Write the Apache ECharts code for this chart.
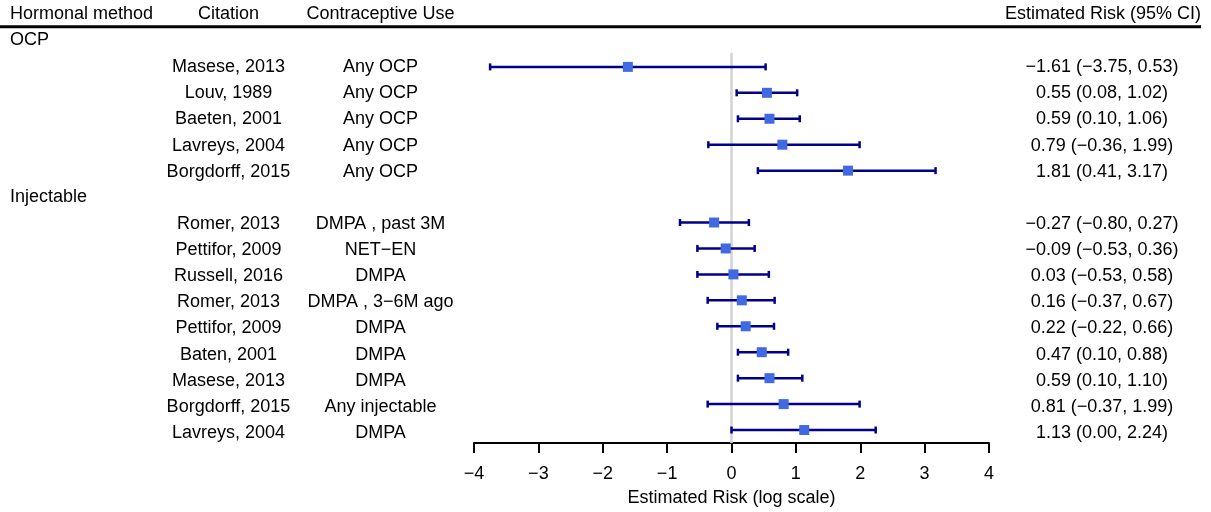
<!DOCTYPE html>
<html>
<head>
<meta charset="utf-8">
<script src="https://cdn.jsdelivr.net/npm/echarts@6/dist/echarts.min.js"></script>
<style>
  html, body { margin: 0; padding: 0; background: #fff; }
  #chart { width: 1211px; height: 512px; }
</style>
</head>
<body>
<div id="chart"></div>
<script>
// data
const methods = ['OCP', 'OCP', 'OCP', 'OCP', 'OCP',
  'Injectable', 'Injectable', 'Injectable', 'Injectable', 'Injectable',
  'Injectable', 'Injectable', 'Injectable', 'Injectable']
const citations = ['Masese, 2013', 'Louv, 1989', 'Baeten, 2001', 'Lavreys, 2004', 'Borgdorff, 2015',
  'Romer, 2013', 'Pettifor, 2009', 'Russell, 2016', 'Romer, 2013', 'Pettifor, 2009',
  'Baten, 2001', 'Masese, 2013', 'Borgdorff, 2015', 'Lavreys, 2004']
const uses = ['Any OCP', 'Any OCP', 'Any OCP', 'Any OCP', 'Any OCP',
  'DMPA , past 3M', 'NET\u2212EN', 'DMPA', 'DMPA , 3\u22126M ago', 'DMPA',
  'DMPA', 'DMPA', 'Any injectable', 'DMPA']
const estimate = [-1.61, 0.55, 0.59, 0.79, 1.81, -0.27, -0.09, 0.03, 0.16, 0.22, 0.47, 0.59, 0.81, 1.13]
const lower = [-3.75, 0.08, 0.10, -0.36, 0.41, -0.80, -0.53, -0.53, -0.37, -0.22, 0.10, 0.10, -0.37, 0.00]
const upper = [0.53, 1.02, 1.06, 1.99, 3.17, 0.27, 0.36, 0.58, 0.67, 0.66, 0.88, 1.10, 1.99, 2.24]
const xTicks = [-4, -3, -2, -1, 0, 1, 2, 3, 4]
const headers = ['Hormonal method', 'Citation', 'Contraceptive Use', 'Estimated Risk (95% CI)']

const fmt = v => v.toFixed(2).replace('-', '\u2212')

// layout of rows: header row 0, then group label rows and study rows
const ROW_MAX = 16.5
const cols = { method: 10, citation: 228.5, use: 380.5, ci: 1102, ciHead: 1201 }
let cells = []
let studyRow = []
cells.push({ x: cols.method, row: -0.02, text: headers[0], align: 'left' })
cells.push({ x: cols.citation, row: -0.02, text: headers[1], align: 'center' })
cells.push({ x: cols.use, row: -0.02, text: headers[2], align: 'center' })
cells.push({ x: cols.ciHead, row: -0.02, text: headers[3], align: 'right' })
let row = 0
let last = null
for (let i = 0; i < citations.length; i++) {
  if (methods[i] !== last) {
    row++
    cells.push({ x: cols.method, row: row - 0.04, text: methods[i], align: 'left' })
    last = methods[i]
  }
  row++
  studyRow.push(row)
  cells.push({ x: cols.citation, row: row, text: citations[i], align: 'center' })
  cells.push({ x: cols.use, row: row, text: uses[i], align: 'center' })
  cells.push({ x: cols.ci, row: row, text: fmt(estimate[i]) + ' (' + fmt(lower[i]) + ', ' + fmt(upper[i]) + ')', align: 'center' })
}

let myChart = echarts.init(document.getElementById('chart'))
const FONT = "'Liberation Sans', Arial, sans-serif"
var option = {
  animation: false,
  textStyle: { fontFamily: FONT },
  grid: [
    { left: 474, right: 222, top: 15, bottom: 66 },
    { left: 0, right: 0, top: 15, bottom: 66 }
  ],
  xAxis: [
    {
      gridIndex: 0,
      type: 'value',
      min: xTicks[0],
      max: xTicks[xTicks.length - 1],
      interval: 1,
      splitLine: { show: false },
      axisLine: { onZero: false, lineStyle: { color: '#000', width: 2 } },
      axisTick: { length: 10, lineStyle: { color: '#000', width: 2 } },
      axisLabel: {
        color: '#000', fontSize: 18, margin: 22, fontFamily: FONT,
        formatter: v => String(v).replace('-', '\u2212')
      },
      name: 'Estimated Risk (log scale)',
      nameLocation: 'middle',
      nameGap: 46,
      nameTextStyle: { color: '#000', fontSize: 18, fontFamily: FONT }
    },
    { gridIndex: 1, type: 'value', min: 0, max: 1211, show: false }
  ],
  yAxis: [
    { gridIndex: 0, type: 'value', min: 0, max: ROW_MAX, inverse: true, show: false },
    { gridIndex: 1, type: 'value', min: 0, max: ROW_MAX, inverse: true, show: false }
  ],
  series: [
    {
      // reference line at 0
      type: 'line',
      xAxisIndex: 0, yAxisIndex: 0,
      data: [[0, 1.46], [0, ROW_MAX]],
      symbol: 'none',
      lineStyle: { color: '#d3d3d3', width: 2.5 },
      z: 1
    },
    {
      // confidence intervals
      type: 'custom',
      xAxisIndex: 0, yAxisIndex: 0,
      data: estimate.map((v, i) => [lower[i], studyRow[i], upper[i]]),
      encode: { x: [0, 2], y: 1 },
      renderItem: function (params, api) {
        let a = api.coord([api.value(0), api.value(1)])
        let b = api.coord([api.value(2), api.value(1)])
        let st = { stroke: '#00008B', lineWidth: 2.5 }
        return {
          type: 'group',
          children: [
            { type: 'line', shape: { x1: a[0], y1: a[1], x2: b[0], y2: b[1] }, style: st },
            { type: 'line', shape: { x1: a[0], y1: a[1] - 3.5, x2: a[0], y2: a[1] + 3.5 }, style: st },
            { type: 'line', shape: { x1: b[0], y1: b[1] - 3.5, x2: b[0], y2: b[1] + 3.5 }, style: st }
          ]
        }
      },
      z: 2
    },
    {
      // point estimates
      type: 'scatter',
      xAxisIndex: 0, yAxisIndex: 0,
      data: estimate.map((v, i) => [v, studyRow[i]]),
      symbol: 'rect',
      symbolSize: 10,
      itemStyle: { color: '#4169E1', opacity: 1 },
      z: 3
    },
    {
      // rule under the header
      type: 'line',
      xAxisIndex: 1, yAxisIndex: 1,
      data: [[0, 0.45], [1201, 0.45]],
      symbol: 'none',
      lineStyle: { color: '#000', width: 3 }
    },
    {
      // table text
      type: 'custom',
      xAxisIndex: 1, yAxisIndex: 1,
      data: cells.map(c => [c.x, c.row]),
      renderItem: function (params, api) {
        let c = cells[params.dataIndex]
        let p = api.coord([api.value(0), api.value(1)])
        return {
          type: 'text',
          x: p[0], y: p[1],
          style: {
            text: c.text,
            fill: '#000',
            font: '18px ' + FONT,
            align: c.align,
            verticalAlign: 'middle'
          }
        }
      }
    }
  ]
}
myChart.setOption(option)
</script>
</body>
</html>
